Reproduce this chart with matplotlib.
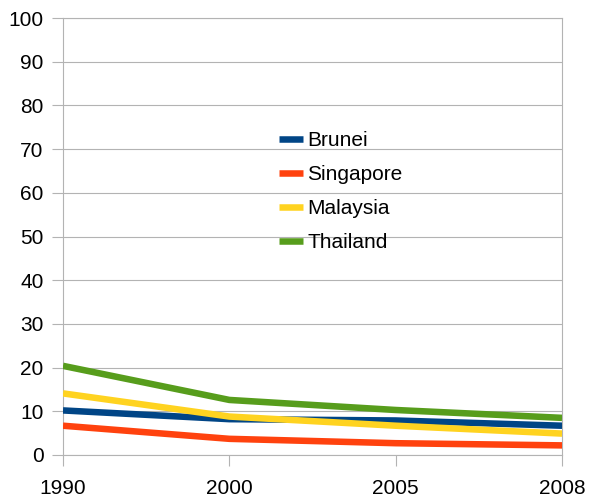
import matplotlib

matplotlib.use('Agg')
import matplotlib.pyplot as plt

# Годы и значения по странам
years = ['1990', '2000', '2005', '2008']
brunei = [10.2, 8.2, 7.9, 6.7]
singapore = [6.7, 3.7, 2.7, 2.2]
malaysia = [14.1, 8.8, 6.7, 4.9]
thailand = [20.4, 12.6, 10.3, 8.5]

series = [
    ('Brunei', brunei, '#004586'),
    ('Singapore', singapore, '#ff420e'),
    ('Malaysia', malaysia, '#ffd320'),
    ('Thailand', thailand, '#579d1c'),
]

plt.rcParams['font.family'] = ['Liberation Sans', 'DejaVu Sans']
grid_color = '#b3b3b3'

fig = plt.figure(figsize=(5.91, 5.0), dpi=100)
ax = fig.add_axes([0.1066, 0.09, 0.8444, 0.874])

x = list(range(len(years)))
for name, values, color in series:
    ax.plot(x, values, color=color, linewidth=4.7, label=name,
            solid_joinstyle='round', solid_capstyle='butt', zorder=3)

ax.set_xlim(0, len(years) - 1)
ax.set_ylim(0, 100)
ax.set_yticks(range(0, 101, 10))
ax.set_xticks(x)
ax.set_xticklabels(years)

ax.yaxis.grid(True, color=grid_color, linewidth=0.8)
ax.set_axisbelow(True)
for spine in ax.spines.values():
    spine.set_color(grid_color)
    spine.set_linewidth(0.8)

ax.tick_params(axis='both', colors=grid_color, labelcolor='black',
               labelsize=15, length=8, width=0.8, direction='out')
ax.tick_params(axis='y', pad=6)
ax.tick_params(axis='x', pad=9)

fig.legend(loc='upper left', bbox_to_anchor=(0.472, 0.738), frameon=False,
           fontsize=15, handlelength=1.15, handletextpad=0.2,
           labelspacing=0.72, borderpad=0, borderaxespad=0)

fig.savefig('out.png', dpi=100)
plt.close(fig)
